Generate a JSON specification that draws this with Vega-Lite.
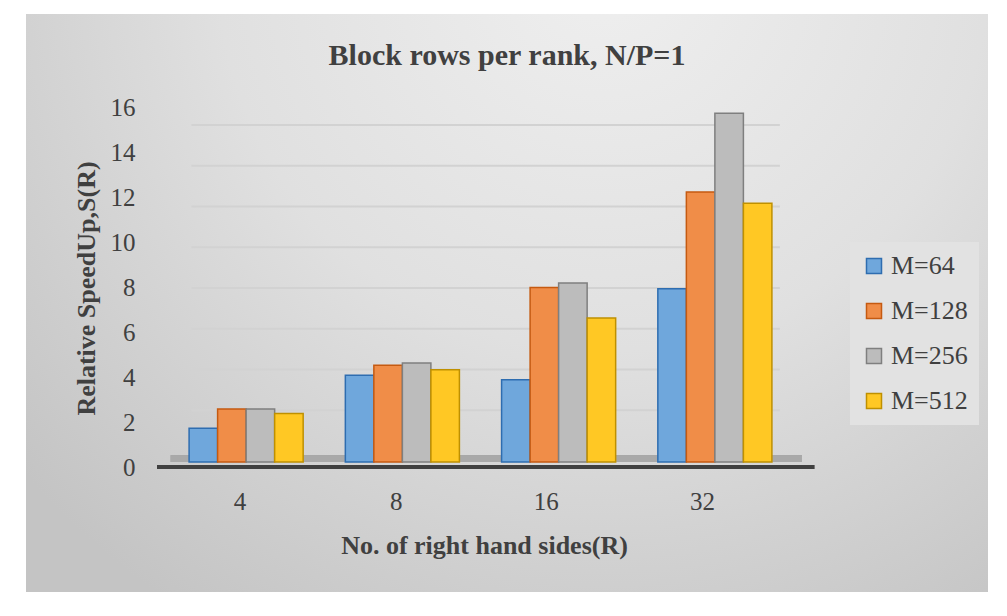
{
  "$schema": "https://vega.github.io/schema/vega-lite/v6.json",
  "width": 962,
  "height": 578,
  "autosize": {"type": "none"},
  "padding": {"left": 26, "top": 14, "right": 19, "bottom": 24},
  "background": "white",
  "view": {
    "fill": {"gradient": "radial", "x1": 0.6, "y1": 0.15, "r1": 0, "x2": 0.6, "y2": 0.15, "r2": 0.8,
      "stops": [{"offset": 0, "color": "#efefef"}, {"offset": 0.5, "color": "#e0e0e0"}, {"offset": 1, "color": "#c4c4c4"}]},
    "stroke": null
  },
  "title": {
    "text": "Block rows per rank, N/P=1",
    "font": "Liberation Serif",
    "fontSize": 30,
    "fontWeight": "bold",
    "color": "#404040",
    "anchor": "middle",
    "offset": -81,
    "baseline": "alphabetic"
  },
  "datasets": {
    "bars": [
      {"R": "4", "M": "M=64", "S": 1.5},
      {"R": "4", "M": "M=128", "S": 2.35},
      {"R": "4", "M": "M=256", "S": 2.35},
      {"R": "4", "M": "M=512", "S": 2.15},
      {"R": "8", "M": "M=64", "S": 3.85},
      {"R": "8", "M": "M=128", "S": 4.3},
      {"R": "8", "M": "M=256", "S": 4.4},
      {"R": "8", "M": "M=512", "S": 4.1},
      {"R": "16", "M": "M=64", "S": 3.65},
      {"R": "16", "M": "M=128", "S": 7.75},
      {"R": "16", "M": "M=256", "S": 7.95},
      {"R": "16", "M": "M=512", "S": 6.4},
      {"R": "32", "M": "M=64", "S": 7.7},
      {"R": "32", "M": "M=128", "S": 12.0},
      {"R": "32", "M": "M=256", "S": 15.5},
      {"R": "32", "M": "M=512", "S": 11.5}
    ],
    "grid": [{"g": 2}, {"g": 4}, {"g": 6}, {"g": 8}, {"g": 10}, {"g": 12}, {"g": 14}, {"g": 16}]
  },
  "resolve": {"scale": {"y": "independent"}},
  "layer": [
    {
      "data": {"name": "grid"},
      "mark": {"type": "rule", "color": "#d2d2d2", "strokeWidth": 2},
      "encoding": {
        "y": {"field": "g", "type": "quantitative", "scale": {"domain": [-6.92, 21.448], "nice": false, "zero": false}, "axis": null},
        "x": {"datum": "4", "type": "ordinal", "bandPosition": 0.02},
        "x2": {"datum": "32", "bandPosition": 1.07}
      }
    },
    {
      "data": {"name": "grid"},
      "mark": {"type": "rect", "color": "#a9a9a9"},
      "encoding": {
        "y": {"datum": 0, "type": "quantitative", "scale": {"domain": [-5.778, 19.911], "nice": false, "zero": false}, "axis": null},
        "y2": {"datum": 0.3},
        "x": {"datum": "4", "type": "ordinal", "bandPosition": -0.16},
        "x2": {"datum": "32", "bandPosition": 1.26}
      }
    },
    {
      "data": {"name": "grid"},
      "mark": {"type": "rule", "color": "#404040", "strokeWidth": 4},
      "encoding": {
        "y": {"datum": -0.22, "type": "quantitative", "scale": {"domain": [-5.778, 19.911], "nice": false, "zero": false}, "axis": null},
        "x": {"datum": "4", "type": "ordinal", "bandPosition": -0.28},
        "x2": {"datum": "32", "bandPosition": 1.37}
      }
    },
    {
      "data": {"name": "bars"},
      "mark": {"type": "bar", "strokeWidth": 1.5},
      "encoding": {
        "x": {
          "field": "R",
          "type": "ordinal",
          "scale": {"domain": ["4", "8", "16", "32"], "range": [142, 767], "paddingInner": 0.27, "paddingOuter": 0.135},
          "axis": {
            "orient": "bottom",
            "offset": -83,
            "labelBaseline": "alphabetic",
            "labelPadding": 0,
            "ticks": false,
            "tickSize": 0,
            "domain": false,
            "grid": false,
            "labelAngle": 0,
            "labelFont": "Liberation Serif",
            "labelFontSize": 25,
            "labelColor": "#404040",
            "title": "No. of right hand sides(R)",
            "titleFont": "Liberation Serif",
            "titleFontSize": 26,
            "titleFontWeight": "bold",
            "titleColor": "#404040",
            "titleX": 458,
            "titleY": 44,
            "titleAlign": "center",
            "titleBaseline": "alphabetic"
          }
        },
        "xOffset": {"field": "M", "type": "nominal", "scale": {"domain": ["M=64", "M=128", "M=256", "M=512"], "paddingInner": 0, "paddingOuter": 0}},
        "y": {
          "field": "S",
          "type": "quantitative",
          "scale": {"domain": [-5.778, 19.911], "nice": false, "zero": false},
          "axis": {
            "orient": "left",
            "offset": -113,
            "values": [0, 2, 4, 6, 8, 10, 12, 14, 16],
            "ticks": false,
            "tickSize": 0,
            "domain": false,
            "grid": false,
            "labelPadding": 4,
            "labelOffset": 6,
            "labelFont": "Liberation Serif",
            "labelFontSize": 25,
            "labelColor": "#404040",
            "title": "Relative SpeedUp,S(R)",
            "titleFont": "Liberation Serif",
            "titleFontSize": 26,
            "titleFontWeight": "bold",
            "titleColor": "#404040",
            "titleAngle": 270,
            "titleX": -53,
            "titleY": 274,
            "titleAlign": "center",
            "titleBaseline": "middle"
          }
        },
        "y2": {"datum": 0},
        "fill": {
          "field": "M",
          "type": "nominal",
          "scale": {"domain": ["M=64", "M=128", "M=256", "M=512"], "range": ["#6fa7dc", "#f08d48", "#bcbcbc", "#ffc824"]},
          "legend": {
            "orient": "none", "legendX": 824, "legendY": 228, "title": null,
            "fillColor": "#e2e2e2", "padding": 11, "symbolType": "square", "symbolSize": 225,
            "symbolStrokeWidth": 1.5, "labelFont": "Liberation Serif", "labelFontSize": 26,
            "labelColor": "#404040", "rowPadding": 19, "labelOffset": 4
          }
        },
        "stroke": {
          "field": "M",
          "type": "nominal",
          "scale": {"domain": ["M=64", "M=128", "M=256", "M=512"], "range": ["#2e6db0", "#c55a11", "#7f7f7f", "#bf9000"]},
          "legend": {
            "orient": "none", "legendX": 824, "legendY": 228, "title": null,
            "fillColor": "#e2e2e2", "padding": 11, "symbolType": "square", "symbolSize": 225,
            "symbolStrokeWidth": 1.5, "labelFont": "Liberation Serif", "labelFontSize": 26,
            "labelColor": "#404040", "rowPadding": 19, "labelOffset": 4
          }
        }
      }
    }
  ]
}
